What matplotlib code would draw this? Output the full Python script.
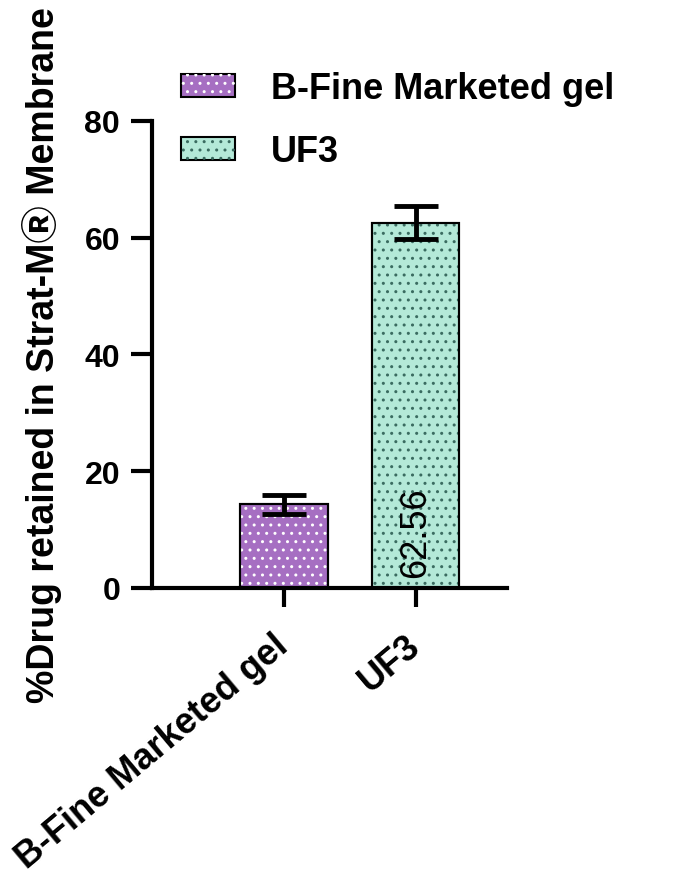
import matplotlib
matplotlib.use('Agg')
import matplotlib.pyplot as plt
from matplotlib.legend_handler import HandlerTuple

# 数据
categories = ['B-Fine Marketed gel', 'UF3']
values = [14.3, 62.56]
errors = [1.7, 2.8]
fill_colors = ['#A66FC2', '#B4E9D8']
dot_colors = ['white', '#3A6B60']

plt.rcParams['font.family'] = ['Liberation Sans', 'DejaVu Sans', 'Noto Sans CJK JP']
plt.rcParams['hatch.linewidth'] = 1.0

fig = plt.figure(figsize=(6.85, 8.87), dpi=100)
ax = fig.add_axes([0.222, 0.336, 0.518, 0.5265])

x = list(range(len(categories)))
handles = []
for i in x:
    base = ax.bar(x[i], values[i], width=0.66, color=fill_colors[i],
                  edgecolor='black', linewidth=1.5, zorder=2)
    dots = ax.bar(x[i], values[i], width=0.66, facecolor='none',
                  edgecolor=dot_colors[i], hatch='..', linewidth=0, zorder=3)
    # 边框再画一次，避免被点覆盖
    ax.bar(x[i], values[i], width=0.66, facecolor='none',
           edgecolor='black', linewidth=1.5, zorder=4)
    handles.append((base[0], dots[0]))

ax.errorbar(x, values, yerr=errors, fmt='none', ecolor='black',
            elinewidth=3.5, capsize=15.5, capthick=3.5, zorder=5)

# 柱内数值
ax.text(x[1], 1.8, '62.56', rotation=90, ha='center', va='bottom',
        fontsize=26, color='black', zorder=6)

ax.set_xlim(-1.0, 1.69)
ax.set_ylim(0, 80)
ax.set_yticks([0, 20, 40, 60, 80])
ax.set_xticks(x)
ax.set_xticklabels(categories, rotation=40, ha='right', va='center',
                   rotation_mode='anchor', fontsize=26, fontweight='bold')
for lab in ax.get_yticklabels():
    lab.set_fontsize(23)
    lab.set_fontweight('bold')

ax.spines['top'].set_visible(False)
ax.spines['right'].set_visible(False)
ax.spines['left'].set_linewidth(3)
ax.spines['bottom'].set_linewidth(3)
ax.tick_params(axis='y', width=3, length=15, pad=8)
ax.tick_params(axis='x', width=3, length=14, pad=24)

ax.set_ylabel('%Drug retained in Strat-M\u24c7 Membrane', fontsize=27,
              fontweight='bold', labelpad=16)

leg = fig.legend(handles, categories, loc='upper left',
                 bbox_to_anchor=(181 / 685, 1 - 72 / 887), frameon=False,
                 borderpad=0, borderaxespad=0,
                 prop={'size': 26, 'weight': 'bold'},
                 handler_map={tuple: HandlerTuple(ndivide=1)},
                 handlelength=1.5, handleheight=0.62, labelspacing=0.78,
                 handletextpad=1.0)

fig.savefig('out.png', dpi=100)
